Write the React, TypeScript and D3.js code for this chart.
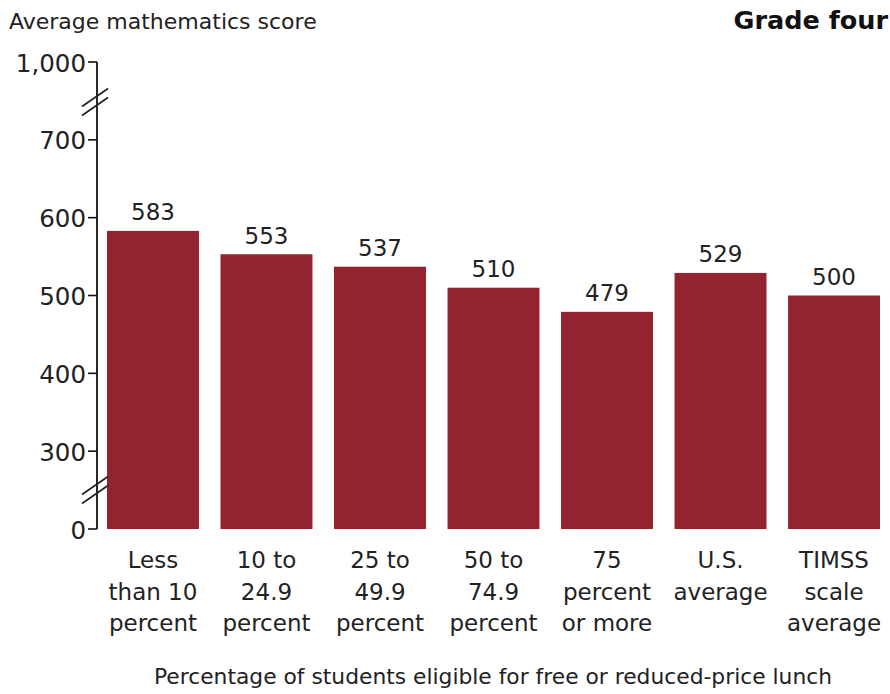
import React from "react";
import * as d3 from "d3";

const categories = [
  ["Less", "than 10", "percent"],
  ["10 to", "24.9", "percent"],
  ["25 to", "49.9", "percent"],
  ["50 to", "74.9", "percent"],
  ["75", "percent", "or more"],
  ["U.S.", "average"],
  ["TIMSS", "scale", "average"],
];
const scores = [583, 553, 537, 510, 479, 529, 500];
const yTicks = [0, 300, 400, 500, 600, 700, 1000];
const yTickLabels = ["0", "300", "400", "500", "600", "700", "1,000"];

const W = 890;
const H = 694;
const FONT = "'DejaVu Sans', 'Liberation Sans', Arial, sans-serif";
const BAR = "#93232e";

// broken axis: 0 displayed like 200, 1000 displayed like 800
const disp = (v: number) => (v <= 0 ? 200 : v >= 1000 ? 800 : v);

export default function App() {
  const y = d3.scaleLinear().domain([200, 800]).range([529, 62]);
  const x = d3
    .scaleBand<number>()
    .domain(d3.range(scores.length))
    .range([107, 880])
    .paddingInner(0.19)
    .paddingOuter(0);
  const axisX = 97;
  const yb = (v: number) => y(disp(v));

  const breakMark = (cy: number, key: string) => (
    <g key={key}>
      {[-4.5, 4.5].map((o, i) => (
        <line
          key={i}
          x1={axisX - 15}
          y1={cy + o + 9}
          x2={axisX + 11}
          y2={cy + o - 9}
          stroke="#222"
          strokeWidth={1.7}
        />
      ))}
    </g>
  );

  return (
    <svg
      width={W}
      height={H}
      style={{ position: "absolute", left: 0, top: 0, background: "#fff" }}
      fontFamily={FONT}
    >
      <text x={9} y={29} fontSize={22} fill="#222">
        Average mathematics score
      </text>
      <text x={888} y={29} fontSize={25.5} fontWeight="bold" textAnchor="end" fill="#111">
        Grade four
      </text>

      {scores.map((s, i) => (
        <g key={i}>
          <rect
            x={x(i)!}
            y={yb(s)}
            width={x.bandwidth()}
            height={yb(0) - yb(s)}
            fill={BAR}
          />
          <text
            x={x(i)! + x.bandwidth() / 2}
            y={yb(s) - 10.5}
            textAnchor="middle"
            fontSize={23}
            fill="#222"
          >
            {s}
          </text>
          {categories[i].map((line, j) => (
            <text
              key={j}
              x={x(i)! + x.bandwidth() / 2}
              y={568 + j * 31.5}
              textAnchor="middle"
              fontSize={23}
              fill="#222"
            >
              {line}
            </text>
          ))}
        </g>
      ))}

      <line x1={axisX} y1={yb(1000)} x2={axisX} y2={yb(0)} stroke="#111" strokeWidth={1.8} />
      {yTicks.map((t, i) => (
        <g key={t}>
          <line x1={axisX - 9} x2={axisX} y1={yb(t)} y2={yb(t)} stroke="#111" strokeWidth={1.6} />
          <text
            x={axisX - 11}
            y={yb(t) + 9.5}
            textAnchor="end"
            fontSize={24.5}
            fill="#222"
          >
            {yTickLabels[i]}
          </text>
        </g>
      ))}
      {breakMark(102, "b1")}
      {breakMark(490, "b2")}

      <text x={493} y={684} textAnchor="middle" fontSize={21.8} fill="#222">
        Percentage of students eligible for free or reduced-price lunch
      </text>
    </svg>
  );
}
